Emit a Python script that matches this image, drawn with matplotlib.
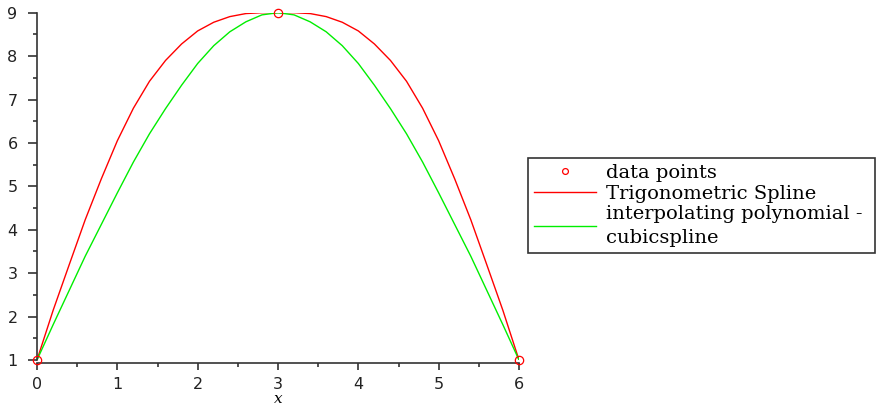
import numpy as np
import matplotlib
matplotlib.use("Agg")
import matplotlib.pyplot as plt
from matplotlib.ticker import MultipleLocator

# data points
pts_x = [0, 3, 6]
pts_y = [1, 9, 1]

# curves, x step 0.2
xs = [0.0, 0.2, 0.4, 0.6, 0.8, 1.0, 1.2, 1.4, 1.6, 1.8, 2.0, 2.2, 2.4, 2.6, 2.8, 3.0,
      3.2, 3.4, 3.6, 3.8, 4.0, 4.2, 4.4, 4.6, 4.8, 5.0, 5.2, 5.4, 5.6, 5.8, 6.0]
trig_spline = [1.00, 2.14, 3.19, 4.23, 5.17, 6.05, 6.80, 7.42, 7.90, 8.28, 8.58, 8.78, 8.91, 8.98, 9.00, 9.00,
               9.00, 8.98, 8.91, 8.78, 8.58, 8.28, 7.90, 7.42, 6.80, 6.05, 5.17, 4.23, 3.19, 2.14, 1.00]
cubic_spline = [1.00, 1.81, 2.60, 3.39, 4.12, 4.85, 5.56, 6.21, 6.79, 7.33, 7.83, 8.24, 8.56, 8.79, 8.95, 9.00,
                8.95, 8.79, 8.56, 8.24, 7.83, 7.33, 6.79, 6.21, 5.56, 4.85, 4.12, 3.39, 2.60, 1.81, 1.00]

W, H = 876, 407
fig = plt.figure(figsize=(W / 100, H / 100), dpi=100)
ax = fig.add_axes([37 / W, (H - 360) / H, (519 - 37) / W, (360 - 12.7) / H])

ax.plot(pts_x, pts_y, linestyle="none", marker="o", markersize=6, markerfacecolor="none",
        markeredgecolor="#ff0000", markeredgewidth=0.9, clip_on=False, zorder=5,
        label="data points")
ax.plot(xs, trig_spline, color="#ff0000", lw=1.0, label="Trigonometric Spline")
ax.plot(xs, cubic_spline, color="#00ee00", lw=1.0,
        label="interpolating polynomial -\ncubicspline")

ax.set_xlim(0, 6)
ax.set_ylim(1, 9)
ax.spines["top"].set_visible(False)
ax.spines["right"].set_visible(False)
ax.spines["bottom"].set_position(("outward", 2.2))
for s in ("left", "bottom"):
    ax.spines[s].set_color("#333333")
    ax.spines[s].set_linewidth(1.2)

ax.xaxis.set_major_locator(MultipleLocator(1))
ax.xaxis.set_minor_locator(MultipleLocator(0.5))
ax.yaxis.set_major_locator(MultipleLocator(1))
ax.yaxis.set_minor_locator(MultipleLocator(0.5))
ax.tick_params(which="major", width=1.2, color="#333333", labelsize=11.5, labelcolor="#222222")
ax.tick_params(which="minor", length=3, width=1.2, color="#333333")
ax.tick_params(axis="y", which="major", length=6.5, pad=7.5)
ax.tick_params(axis="x", which="major", length=5, pad=5)

ax.set_xlabel("x", fontsize=11, family="DejaVu Serif", style="italic", labelpad=0)

leg = ax.legend(loc="upper left", mode="expand",
                bbox_to_anchor=(528 / W, (H - 252) / H, 347 / W, 94 / H), bbox_transform=fig.transFigure,
                prop={"family": "DejaVu Serif", "size": 14}, fancybox=False, framealpha=1,
                edgecolor="#333333", borderaxespad=0, handlelength=3.2, handletextpad=0.5,
                labelspacing=0.14, borderpad=0.3, markerscale=0.7)
leg.get_frame().set_linewidth(1.2)
leg.get_texts()[2].set_linespacing(1.4)

plt.savefig("out.png", dpi=100)
